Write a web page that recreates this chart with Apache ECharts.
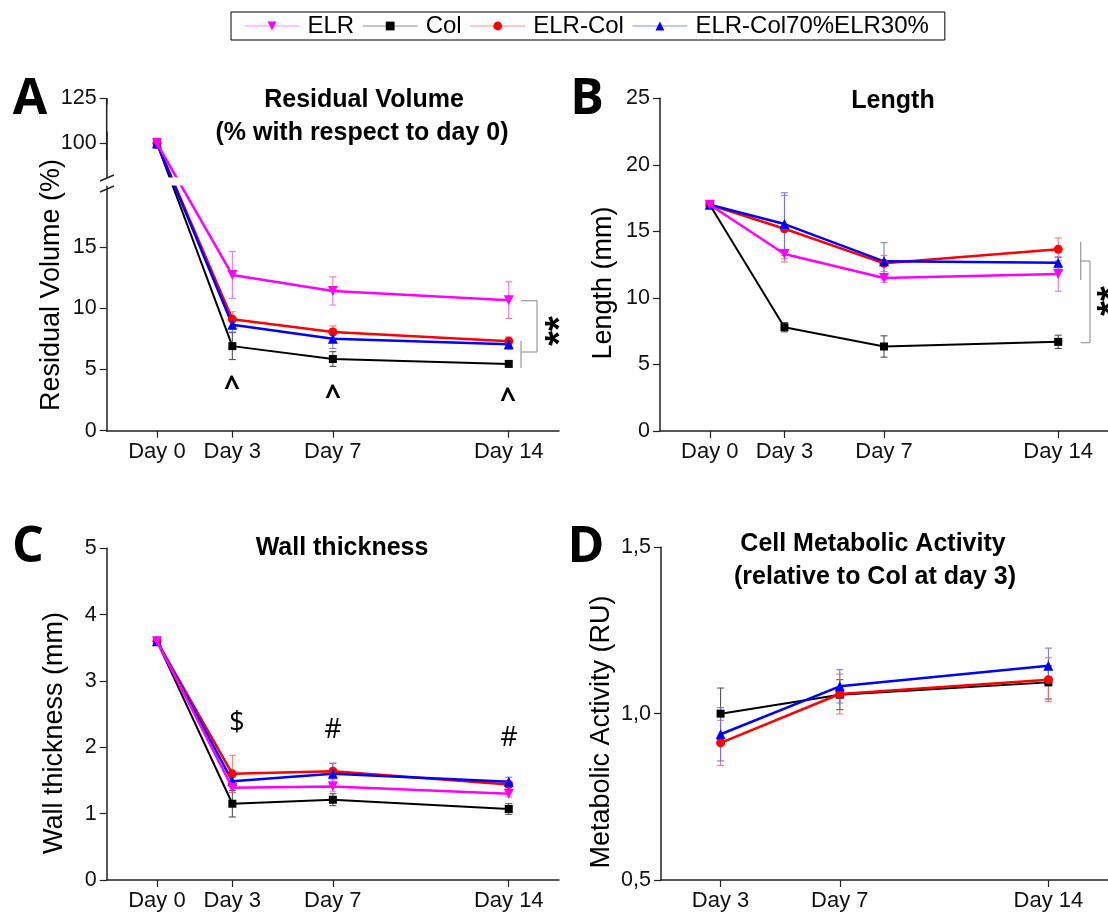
<!DOCTYPE html>
<html><head><meta charset="utf-8">
<script src="https://cdn.jsdelivr.net/npm/echarts@6/dist/echarts.min.js"></script>
<style>html,body{margin:0;padding:0;background:#fff}#c{width:1108px;height:912px}</style>
</head><body><div id="c"></div>
<script>
// ---------- data ----------
const seriesNames = ['ELR', 'Col', 'ELR-Col', 'ELR-Col70%ELR30%'];
const days = [0, 3, 7, 14];
const daysD = [3, 7, 14];
const dayTicks = [0, 3, 7, 14];
const dayTicksD = [3, 7, 14];

// A: residual volume (%)
const volELR = [100, 12.7, 11.4, 10.65];
const volCol = [100, 6.9, 5.85, 5.45];
const volELRCol = [100, 9.1, 8.05, 7.3];
const volMix = [100, 8.65, 7.5, 7.05];
const volELRErr = [0.4, 1.9, 1.15, 1.5];
const volColErr = [0.4, 1.1, 0.6, 0.2];
const volELRColErr = [0.4, 0.6, 0.5, 0.35];
const volMixErr = [0.4, 0.6, 0.8, 0.4];
const volTicks = [0, 5, 10, 15, 100, 125];

// B: length (mm)
const lenELR = [17, 13.3, 11.5, 11.8];
const lenCol = [17, 7.8, 6.35, 6.7];
const lenELRCol = [17, 15.2, 12.6, 13.65];
const lenMix = [17, 15.55, 12.75, 12.65];
const lenELRErr = [0.2, 0.35, 0.35, 1.3];
const lenColErr = [0.2, 0.35, 0.8, 0.5];
const lenELRColErr = [0.2, 2.5, 0.6, 0.85];
const lenMixErr = [0.25, 2.35, 1.4, 0.4];

// C: wall thickness (mm)
const wallELR = [3.6, 1.39, 1.41, 1.3];
const wallCol = [3.6, 1.15, 1.21, 1.07];
const wallELRCol = [3.6, 1.6, 1.64, 1.44];
const wallMix = [3.6, 1.49, 1.6, 1.48];
const wallELRErr = [0.05, 0.07, 0.08, 0.05];
const wallColErr = [0.05, 0.2, 0.09, 0.08];
const wallELRColErr = [0.05, 0.28, 0.12, 0.05];
const wallMixErr = [0.06, 0.1, 0.16, 0.07];

// D: metabolic activity (RU), no ELR group
const metCol = [1.0, 1.057, 1.094];
const metELRCol = [0.912, 1.059, 1.102];
const metMix = [0.938, 1.082, 1.144];
const metColErr = [0.077, 0.045, 0.05];
const metELRColErr = [0.068, 0.06, 0.066];
const metMixErr = [0.08, 0.05, 0.053];

// ---------- styles ----------
const FONT = '"Liberation Sans", Arial, sans-serif';
const FONT2 = '"Open Sans", sans-serif';
const colors = {'ELR': '#ff00ff', 'Col': '#000000', 'ELR-Col': '#ff0000', 'ELR-Col70%ELR30%': '#0000ff'};
const errColors = {'ELR': '#e070e0', 'Col': '#444444', 'ELR-Col': '#f07070', 'ELR-Col70%ELR30%': '#7070e8'};
const symbols = {'ELR': ['triangle', 180, 10], 'Col': ['rect', 0, 8], 'ELR-Col': ['circle', 0, 9], 'ELR-Col70%ELR30%': ['triangle', 0, 10]};

const zip = (xs, ys) => xs.map((x, i) => [x, ys[i]]);
const zip3 = (xs, ys, es) => xs.map((x, i) => [x, ys[i], es[i]]);

function lineSeries(name, xs, ys, idx) {
  const s = symbols[name];
  return {
    type: 'line', name: name, xAxisIndex: idx, yAxisIndex: idx,
    data: zip(xs, ys), symbol: s[0], symbolRotate: s[1], symbolSize: s[2],
    showSymbol: true, animation: false, z: name === 'ELR' ? 4 : 3,
    lineStyle: {color: colors[name], width: name === 'Col' ? 2 : 2.5},
    itemStyle: {color: colors[name]}
  };
}
function errSeries(name, xs, ys, es, idx) {
  const c = errColors[name];
  return {
    type: 'custom', xAxisIndex: idx, yAxisIndex: idx, z: 2, animation: false,
    data: zip3(xs, ys, es), encode: {x: 0, y: 1},
    renderItem: function (params, api) {
      const x = api.value(0), y = api.value(1), e = api.value(2);
      const t = api.coord([x, y + e]), b = api.coord([x, y - e]);
      const w = 3.5;
      const st = {stroke: c, lineWidth: 1};
      return {type: 'group', children: [
        {type: 'line', shape: {x1: t[0], y1: t[1], x2: b[0], y2: b[1]}, style: st},
        {type: 'line', shape: {x1: t[0] - w, y1: t[1], x2: t[0] + w, y2: t[1]}, style: st},
        {type: 'line', shape: {x1: b[0] - w, y1: b[1], x2: b[0] + w, y2: b[1]}, style: st}
      ]};
    }
  };
}

const axisLineStyle = {show: true, onZero: false, lineStyle: {color: '#222', width: 1.5}};
function xAxis(idx, min, max, ticks) {
  return {
    type: 'value', gridIndex: idx, min: min, max: max,
    axisLine: axisLineStyle, splitLine: {show: false},
    axisTick: {show: true, length: 7, customValues: ticks, lineStyle: {color: '#222', width: 1.2}},
    axisLabel: {customValues: ticks, formatter: v => 'Day ' + v, fontSize: 22, fontFamily: FONT, color: '#111', margin: 10}
  };
}
function yAxis(idx, min, max, ticks, fmt, extra) {
  return Object.assign({
    type: 'value', gridIndex: idx, min: min, max: max,
    axisLine: axisLineStyle, splitLine: {show: false},
    axisTick: {show: true, length: 7, customValues: ticks, lineStyle: {color: '#222', width: 1.2}},
    axisLabel: {customValues: ticks, formatter: fmt || (v => String(v)), fontSize: 21.5, fontFamily: FONT, color: '#111', margin: 10}
  }, extra || {});
}

const series = [];
const panels = [
  [days, [volELR, volCol, volELRCol, volMix], [volELRErr, volColErr, volELRColErr, volMixErr], 0, seriesNames],
  [days, [lenELR, lenCol, lenELRCol, lenMix], [lenELRErr, lenColErr, lenELRColErr, lenMixErr], 1, seriesNames],
  [days, [wallELR, wallCol, wallELRCol, wallMix], [wallELRErr, wallColErr, wallELRColErr, wallMixErr], 2, seriesNames],
  [daysD, [metCol, metELRCol, metMix], [metColErr, metELRColErr, metMixErr], 3, ['Col', 'ELR-Col', 'ELR-Col70%ELR30%']]
];
panels.forEach(p => {
  p[4].forEach((n, i) => series.push(lineSeries(n, p[0], p[1][i], p[3])));
});
panels.forEach(p => {
  p[4].forEach((n, i) => series.push(errSeries(n, p[0], p[1][i], p[2][i], p[3])));
});

function txt(text, x, y, size, opts) {
  opts = opts || {};
  return {
    type: 'text', x: x, y: y, rotation: opts.rot || 0, z: 50,
    style: {
      text: text, fill: '#000', fontSize: size, fontWeight: opts.bold ? 'bold' : 'normal',
      fontFamily: opts.font || FONT, align: 'center', verticalAlign: 'middle',
      textAlign: 'center', textVerticalAlign: 'middle', lineHeight: opts.lh || size
    }
  };
}
function seg(x1, y1, x2, y2, color, w) {
  return {type: 'line', z: 50, shape: {x1, y1, x2, y2}, style: {stroke: color || '#999', lineWidth: w || 1.2}};
}

const graphics = [
  // panel letters
  txt('A', 30, 100, 50, {bold: true, font: FONT2}),
  txt('B', 587, 100, 50, {bold: true, font: FONT2}),
  txt('C', 28, 548, 50, {bold: true, font: FONT2}),
  txt('D', 586, 548, 50, {bold: true, font: FONT2}),
  // titles
  txt('Residual Volume', 364, 100, 25, {bold: true}),
  txt('(% with respect to day 0)', 362, 133, 25, {bold: true}),
  txt('Length', 893, 101, 25, {bold: true}),
  txt('Wall thickness', 342, 548, 25, {bold: true}),
  txt('Cell Metabolic Activity', 873, 544, 25, {bold: true}),
  txt('(relative to Col at day 3)', 875, 577, 25, {bold: true}),
  // axis titles
  txt('Residual Volume (%)', 52, 285, 27, {rot: Math.PI / 2}),
  txt('Length (mm)', 604, 283, 27, {rot: Math.PI / 2}),
  txt('Wall thickness (mm)', 55, 733, 27, {rot: Math.PI / 2}),
  txt('Metabolic Activity (RU)', 602, 732, 27, {rot: Math.PI / 2}),
  // significance marks
  txt('^', 232, 388, 28, {bold: true, font: FONT2}),
  txt('^', 333, 397, 28, {bold: true, font: FONT2}),
  txt('^', 508, 400, 28, {bold: true, font: FONT2}),
  txt('$', 237, 723, 27, {font: FONT2}),
  txt('#', 333, 730, 27, {font: FONT2}),
  txt('#', 509, 738, 27, {font: FONT2}),
  txt('**', 562, 331, 38, {bold: true, rot: Math.PI / 2}),
  txt('**', 1114, 301, 38, {bold: true, rot: Math.PI / 2}),
  // brackets A
  seg(521, 300.7, 537, 300.7), seg(537, 300.7, 537, 352), seg(521, 352, 537, 352), seg(521, 341, 521, 368),
  // brackets B
  seg(1080.7, 241.7, 1080.7, 280), seg(1080.7, 261, 1090, 261), seg(1090, 261, 1090, 342.7), seg(1080.7, 342.7, 1090, 342.7),
  // axis A: continuous line across upper (hidden) break, and "//" break marks
  seg(106.7, 98.3, 106.7, 160, '#222', 1.5),
  seg(100, 181, 114, 175, '#222', 1.5), seg(100, 192, 114, 186, '#222', 1.5)
];

const option = {
  backgroundColor: '#fff',
  animation: false,
  grid: [
    {left: 106.7, top: 98.3, width: 452.3, height: 332.4},
    {left: 660, top: 98.3, width: 451, height: 332.7},
    {left: 106.7, top: 548.3, width: 452.3, height: 332.4},
    {left: 661, top: 547.3, width: 450, height: 333.4}
  ],
  xAxis: [
    xAxis(0, -2, 16, dayTicks),
    xAxis(1, -2, 16, dayTicks),
    xAxis(2, -2, 16, dayTicks),
    xAxis(3, 1, 16, dayTicksD)
  ],
  yAxis: [
    yAxis(0, 0, 125, volTicks, null, {
      breaks: [{start: 20, end: 97.2, gap: 0.65}, {start: 101, end: 124.5, gap: 2.17}],
      breakArea: {show: true, itemStyle: {color: '#fff', borderWidth: 0, opacity: 1}, zigzagAmplitude: 0, zigzagZ: 10, expandOnClick: false}
    }),
    yAxis(1, 0, 25, [0, 5, 10, 15, 20, 25]),
    yAxis(2, 0, 5, [0, 1, 2, 3, 4, 5]),
    yAxis(3, 0.5, 1.5, [0.5, 1.0, 1.5], v => v.toFixed(1).replace('.', ','))
  ],
  legend: {
    left: 231, top: 12, data: seriesNames,
    itemWidth: 55, itemHeight: 11, itemGap: 8,
    padding: [2, 16, 2, 13],
    borderColor: '#000', borderWidth: 1,
    textStyle: {fontSize: 24, fontFamily: FONT, color: '#000', padding: [0, 0, 0, 3]},
    lineStyle: {width: 1, opacity: 0.45},
    selectedMode: false
  },
  series: series,
  graphic: graphics
};
const chart = echarts.init(document.getElementById('c'), null, {renderer: 'canvas'});
chart.setOption(option);
</script></body></html>
